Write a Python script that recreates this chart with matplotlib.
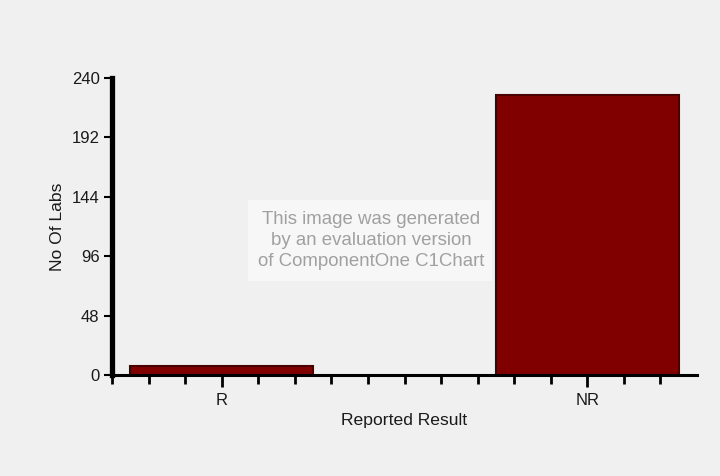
import matplotlib
matplotlib.use("Agg")
import matplotlib.pyplot as plt
from matplotlib.patches import Rectangle
import numpy as np

plt.rcParams['font.family'] = ['Liberation Sans', 'DejaVu Sans']

categories = ["R", "NR"]
no_of_labs = [7, 226]
y_ticks = [0, 48, 96, 144, 192, 240]

bg = "#f0f0f0"
fig = plt.figure(figsize=(7.2, 4.76), dpi=100, facecolor=bg)
ax = fig.add_axes([0.1556, 0.2122, 0.8125, 0.624])
ax.set_facecolor(bg)

x = np.arange(len(categories))
ax.bar(x, no_of_labs, width=0.5, color="#800000", edgecolor="#4a0000",
       linewidth=1.5, zorder=2)

ax.set_xlim(-0.3, 1.3)
ax.set_ylim(0, 240)

for s in ["top", "right"]:
    ax.spines[s].set_visible(False)
ax.spines["left"].set_linewidth(3.8)
ax.spines["bottom"].set_linewidth(2.2)
ax.spines["left"].set_zorder(3)
ax.spines["bottom"].set_zorder(3)

ax.set_yticks(y_ticks)
ax.set_yticklabels([str(v) for v in y_ticks], fontsize=12, color="#1a1a1a")
ax.tick_params(axis="y", length=6, width=1.5, pad=3)

ax.set_xticks(x)
ax.set_xticklabels(categories, fontsize=12, color="#1a1a1a")
ax.set_xticks(np.arange(-3, 13) / 10, minor=True)
ax.tick_params(axis="x", which="major", length=8.6, width=2, pad=4.3)
ax.tick_params(axis="x", which="minor", length=6.5, width=2)

ax.set_xlabel("Reported Result", fontsize=12.6, color="#1a1a1a", labelpad=4)
ax.set_ylabel("No Of Labs", fontsize=12.6, color="#1a1a1a", labelpad=5)

# evaluation watermark
fig.patches.append(Rectangle((0.344, 0.41), 0.339, 0.17, transform=fig.transFigure,
                             facecolor="#f7f7f7", edgecolor="none", zorder=5))
fig.text(0.516, 0.494,
         "This image was generated\nby an evaluation version\nof ComponentOne C1Chart",
         ha="center", va="center", fontsize=13.4, color="#a0a0a0",
         linespacing=1.3, zorder=6)

fig.savefig("out.png", dpi=100, facecolor=bg)
